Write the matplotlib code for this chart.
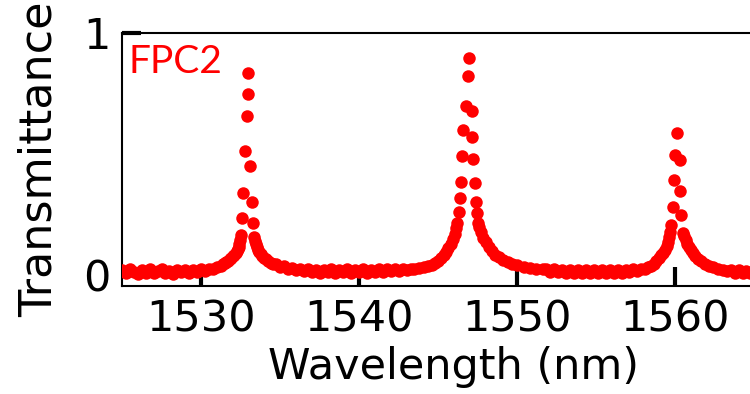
import matplotlib
matplotlib.use("Agg")
import matplotlib.pyplot as plt

# ---------------- data ----------------
wl_base_a = [1525.0, 1525.25, 1525.5, 1525.75, 1526.0, 1526.25, 1526.5, 1526.75,
             1527.0, 1527.25, 1527.5, 1527.75, 1528.0, 1528.25, 1528.5, 1528.75,
             1529.0, 1529.25, 1529.5, 1529.75, 1530.0, 1530.25, 1530.5, 1530.75,
             1531.0, 1531.25]
t_base_a = [0.022, 0.009, 0.025, 0.013, 0.006, 0.021, 0.010, 0.024,
            0.007, 0.019, 0.026, 0.008, 0.018, 0.006, 0.023, 0.011,
            0.020, 0.007, 0.023, 0.012, 0.025, 0.015, 0.027, 0.024,
            0.033, 0.036]

wl_peak1 = [1531.40, 1531.50, 1531.60, 1531.70, 1531.80, 1531.90, 1532.00, 1532.10,
            1532.18, 1532.25, 1532.32, 1532.38, 1532.43, 1532.48, 1532.53, 1532.59,
            1532.66, 1532.78, 1532.90, 1532.95, 1532.98, 1533.10, 1533.23, 1533.29,
            1533.35, 1533.40, 1533.45, 1533.52, 1533.60, 1533.68, 1533.78, 1533.88,
            1534.00, 1534.12, 1534.25, 1534.40, 1534.55]
t_peak1 = [0.046, 0.050, 0.055, 0.060, 0.066, 0.072, 0.078, 0.085,
           0.092, 0.100, 0.108, 0.118, 0.130, 0.145, 0.165, 0.236,
           0.339, 0.512, 0.657, 0.748, 0.835, 0.450, 0.302, 0.215,
           0.157, 0.140, 0.127, 0.115, 0.105, 0.097, 0.088, 0.080,
           0.072, 0.065, 0.058, 0.052, 0.047]

wl_base_b = [1534.75, 1535.0, 1535.25, 1535.5, 1535.75, 1536.0, 1536.25, 1536.5,
             1536.75, 1537.0, 1537.25, 1537.5, 1537.75, 1538.0, 1538.25, 1538.5,
             1538.75, 1539.0, 1539.25, 1539.5, 1539.75, 1540.0, 1540.25, 1540.5,
             1540.75, 1541.0, 1541.25, 1541.5, 1541.75, 1542.0, 1542.25, 1542.5,
             1542.75, 1543.0, 1543.25]
t_base_b = [0.044, 0.034, 0.036, 0.026, 0.030, 0.020, 0.027, 0.016,
            0.025, 0.013, 0.023, 0.010, 0.022, 0.012, 0.024, 0.009,
            0.021, 0.013, 0.025, 0.010, 0.022, 0.012, 0.024, 0.009,
            0.023, 0.014, 0.025, 0.012, 0.026, 0.015, 0.027, 0.017,
            0.026, 0.021, 0.025]

wl_peak2 = [1543.50, 1543.80, 1544.10, 1544.35, 1544.60, 1544.80, 1545.00, 1545.20,
            1545.35, 1545.50, 1545.65, 1545.80, 1545.92, 1546.05, 1546.15, 1546.22,
            1546.33, 1546.35, 1546.44, 1546.50, 1546.54, 1546.77, 1546.88, 1546.92,
            1547.13, 1547.16, 1547.23, 1547.30, 1547.41, 1547.45, 1547.49, 1547.58,
            1547.70, 1547.85, 1548.00, 1548.20, 1548.40, 1548.60, 1548.85, 1549.10,
            1549.40, 1549.70, 1550.00, 1550.40, 1550.80, 1551.20, 1551.60]
t_peak2 = [0.025, 0.028, 0.032, 0.037, 0.043, 0.050, 0.060, 0.070,
           0.082, 0.095, 0.110, 0.130, 0.150, 0.170, 0.195, 0.215,
           0.262, 0.318, 0.385, 0.492, 0.599, 0.698, 0.822, 0.895,
           0.679, 0.570, 0.479, 0.379, 0.303, 0.257, 0.215, 0.200,
           0.180, 0.155, 0.135, 0.115, 0.098, 0.085, 0.073, 0.063,
           0.054, 0.046, 0.040, 0.034, 0.030, 0.027, 0.024]

wl_base_c = [1551.85, 1552.1, 1552.35, 1552.6, 1552.85, 1553.1, 1553.35, 1553.6,
             1553.85, 1554.1, 1554.35, 1554.6, 1554.85, 1555.1, 1555.35, 1555.6,
             1555.85, 1556.1, 1556.35, 1556.6, 1556.85, 1557.1, 1557.35, 1557.6,
             1557.85]
t_base_c = [0.026, 0.014, 0.025, 0.011, 0.023, 0.009, 0.022, 0.008,
            0.021, 0.007, 0.022, 0.009, 0.020, 0.008, 0.022, 0.007,
            0.021, 0.009, 0.023, 0.010, 0.022, 0.013, 0.025, 0.017,
            0.027]

wl_peak3 = [1558.10, 1558.30, 1558.48, 1558.65, 1558.80, 1558.95, 1559.10, 1559.22,
            1559.35, 1559.45, 1559.55, 1559.62, 1559.68, 1559.73, 1559.83, 1559.89,
            1559.96, 1560.11, 1560.27, 1560.32, 1560.36, 1560.46, 1560.55, 1560.65,
            1560.75, 1560.85, 1560.98, 1561.10, 1561.25, 1561.45, 1561.65, 1561.90,
            1562.15, 1562.40, 1562.70, 1563.00]
t_peak3 = [0.027, 0.032, 0.038, 0.047, 0.058, 0.070, 0.082, 0.092,
           0.105, 0.120, 0.138, 0.157, 0.180, 0.207, 0.282, 0.393,
           0.496, 0.586, 0.475, 0.348, 0.248, 0.175, 0.160, 0.145,
           0.130, 0.117, 0.103, 0.092, 0.080, 0.068, 0.057, 0.046,
           0.038, 0.032, 0.027, 0.023]

wl_base_d = [1563.25, 1563.5, 1563.75, 1564.0, 1564.25, 1564.5, 1564.75, 1565.0,
             1565.25]
t_base_d = [0.016, 0.022, 0.009, 0.020, 0.008, 0.019, 0.007, 0.018, 0.008]

x_ticks = [1530, 1540, 1550, 1560]
y_ticks = [0, 1]
y_tick_labels = ["0", "1"]
series_label = "FPC2"

# ---------------- figure ----------------
W, H = 750, 394
fig = plt.figure(figsize=(W / 100, H / 100), dpi=100)
ax_left, ax_right, ax_top, ax_bot = 122, 786, 33, 286
ax = fig.add_axes([ax_left / W, 1 - ax_bot / H, (ax_right - ax_left) / W, (ax_bot - ax_top) / H])

wl = wl_base_a + wl_peak1 + wl_base_b + wl_peak2 + wl_base_c + wl_peak3 + wl_base_d
tr = t_base_a + t_peak1 + t_base_b + t_peak2 + t_base_c + t_peak3 + t_base_d
ax.plot(wl, tr, linestyle="none", marker="o", markersize=9,
        markerfacecolor="#ff0000", markeredgewidth=0, zorder=3)

ax.set_xlim(1525, 1567)
ax.set_ylim(-0.045, 1.0)
ax.set_axisbelow(True)

ax.set_xticks(x_ticks)
ax.set_xticklabels([str(v) for v in x_ticks])
ax.set_yticks(y_ticks)
ax.set_yticklabels(y_tick_labels)
ax.tick_params(axis="both", direction="in", length=13.5, width=3, labelsize=31,
               color="black")
ax.tick_params(axis="x", pad=9)
ax.tick_params(axis="y", pad=8)

for s in ax.spines.values():
    s.set_linewidth(1.5)
ax.spines["right"].set_visible(False)

ax.set_xlabel("Wavelength (nm)", fontsize=31, labelpad=4)
ax.set_ylabel("Transmittance", fontsize=32)
ax.yaxis.set_label_coords(-0.092, 0.5)

ax.text(0.010, 0.955, series_label, transform=ax.transAxes, color="#ff0000",
        fontsize=28, family="Lato", ha="left", va="top")

fig.savefig("out.png", dpi=100)
